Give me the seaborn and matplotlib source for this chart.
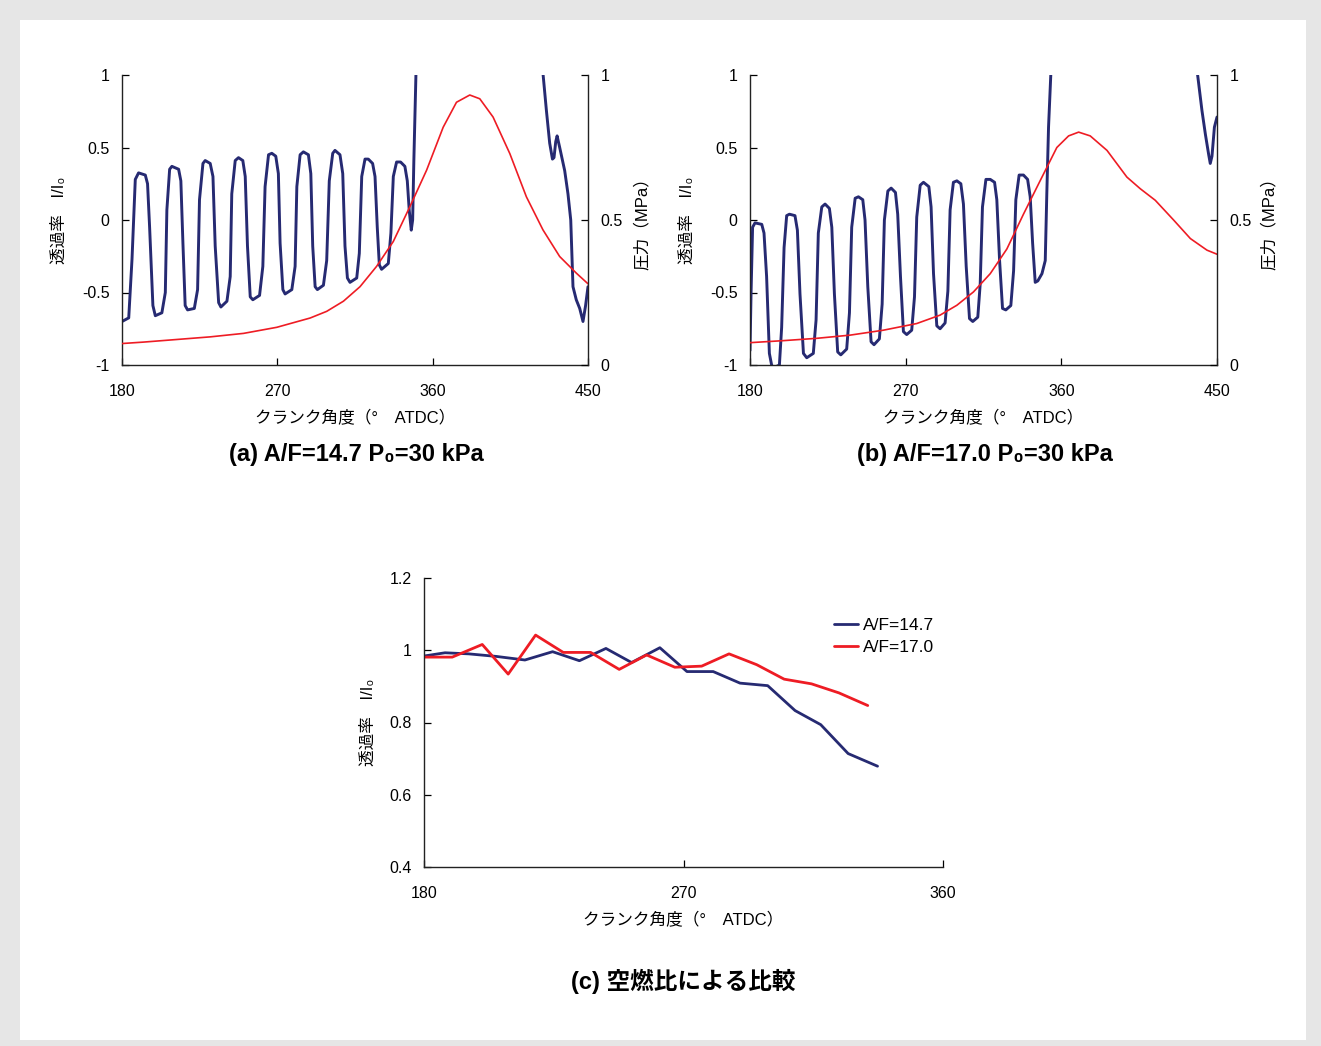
import numpy as np
import pandas as pd
import matplotlib
matplotlib.use("Agg")
import matplotlib.pyplot as plt
from matplotlib.patches import Rectangle
import seaborn as sns

sns.set_style("ticks")
plt.rcParams['font.family'] = ['Liberation Sans', 'Noto Sans CJK JP', 'DejaVu Sans']
plt.rcParams['text.color'] = 'black'
plt.rcParams['axes.labelcolor'] = 'black'

BLUE = '#262a72'
RED = '#ee1c24'

# ---- (a) A/F=14.7 : transmissivity (left axis), pressure (right axis)
a_blue1_ang = [180.0, 183.9, 185.8, 187.7, 189.6, 193.5, 194.8, 196.0, 197.9, 199.3, 203.1,
               205.1, 206.0, 207.6, 208.9, 212.8, 214.1, 215.3, 216.6, 218.0, 221.9,
               223.8, 224.9, 226.9, 228.2, 231.1, 232.7, 234.0, 236.0, 237.3, 240.8,
               242.7, 243.6, 245.6, 247.5, 250.0, 251.4, 252.7, 254.3, 255.8, 259.7,
               261.6, 262.9, 264.9, 266.8, 269.1, 270.6, 271.6, 273.2, 274.5, 278.4,
               280.3, 281.3, 283.2, 285.1, 288.0, 289.4, 290.5, 291.9, 293.2, 296.7,
               298.6, 300.1, 302.1, 303.4, 306.3, 307.9, 309.2, 310.6, 312.1, 316.0,
               317.5, 318.9, 320.8, 322.7, 325.2, 326.6, 327.9, 329.1, 330.4, 334.3,
               335.8, 337.2, 339.1, 341.4, 343.9, 345.3, 346.4, 347.6, 348.4, 349.1,
               350.3, 350.6]
a_blue1_val = [-0.70, -0.675, -0.27, 0.28, 0.325, 0.31, 0.25, -0.05, -0.59, -0.66, -0.64,
               -0.50, 0.07, 0.35, 0.37, 0.35, 0.27, -0.16, -0.59, -0.62, -0.61,
               -0.48, 0.14, 0.39, 0.41, 0.39, 0.30, -0.18, -0.57, -0.60, -0.56,
               -0.39, 0.18, 0.41, 0.43, 0.41, 0.30, -0.18, -0.53, -0.55, -0.52,
               -0.32, 0.23, 0.45, 0.46, 0.44, 0.32, -0.16, -0.48, -0.51, -0.48,
               -0.32, 0.23, 0.45, 0.47, 0.45, 0.32, -0.18, -0.46, -0.48, -0.45,
               -0.28, 0.27, 0.46, 0.48, 0.45, 0.32, -0.18, -0.40, -0.43, -0.40,
               -0.23, 0.30, 0.42, 0.42, 0.39, 0.30, -0.05, -0.31, -0.34, -0.30,
               -0.09, 0.30, 0.40, 0.40, 0.37, 0.27, 0.07, -0.07, 0.00, 0.41,
               1.0, 1.3]
a_blue2_ang = [423.6, 424.0, 425.9, 427.8, 429.4, 430.3, 431.3, 432.1, 433.6, 436.5, 438.4,
               440.0, 441.3, 443.2, 445.2, 447.1, 448.6, 450.0]
a_blue2_val = [1.3, 1.0, 0.755, 0.53, 0.42, 0.43, 0.54, 0.58, 0.50, 0.34, 0.18,
               0.0, -0.46, -0.55, -0.61, -0.70, -0.59, -0.46]
a_red_ang = [180, 192.5, 211.8, 231.1, 250.4, 269.7, 289.0, 298.6, 308.3, 317.9, 327.5,
             337.2, 346.8, 356.5, 366.1, 373.8, 381.5, 387.3, 395.0, 404.7, 414.3,
             423.9, 433.6, 443.2, 450]
a_red_mpa = [0.074, 0.079, 0.088, 0.097, 0.109, 0.130, 0.162, 0.185, 0.22, 0.27, 0.34,
             0.426, 0.546, 0.672, 0.82, 0.906, 0.931, 0.918, 0.855, 0.729, 0.58,
             0.466, 0.374, 0.317, 0.28]

# ---- (b) A/F=17.0
b_blue1_ang = [180.0, 180.6, 181.5, 182.9, 186.8, 188.1, 189.6, 191.2, 192.5, 193.5, 197.0,
               198.3, 199.7, 201.2, 202.8, 206.0, 207.4, 208.9, 210.9, 212.8, 216.6,
               218.2, 219.5, 221.5, 223.4, 225.9, 227.3, 228.8, 230.7, 232.5, 235.9,
               237.5, 238.8, 240.8, 242.7, 245.2, 246.5, 248.1, 250.0, 251.7, 254.8,
               256.4, 257.7, 259.7, 261.6, 264.1, 265.4, 267.0, 268.7, 270.6, 273.5,
               275.1, 276.4, 278.4, 280.3, 283.4, 284.7, 286.1, 288.0, 289.9, 292.8,
               294.4, 295.7, 297.6, 299.6, 301.9, 303.4, 305.0, 306.9, 308.8, 311.7,
               313.1, 314.4, 316.4, 318.9, 321.4, 322.7, 324.3, 326.0, 327.9, 330.8,
               332.4, 333.7, 335.6, 338.1, 340.5, 342.0, 343.4, 344.9, 346.4, 348.8,
               350.7, 351.6, 352.6, 353.9, 354.5]
b_blue1_val = [-0.90, -0.51, -0.05, -0.02, -0.03, -0.09, -0.39, -0.92, -1.0, -1.02, -1.0,
               -0.74, -0.19, 0.03, 0.04, 0.03, -0.07, -0.51, -0.92, -0.95, -0.92,
               -0.69, -0.09, 0.09, 0.11, 0.08, -0.05, -0.51, -0.91, -0.93, -0.89,
               -0.64, -0.05, 0.15, 0.16, 0.14, 0.0, -0.46, -0.84, -0.86, -0.82,
               -0.58, 0.0, 0.20, 0.22, 0.19, 0.04, -0.39, -0.77, -0.79, -0.76,
               -0.53, 0.02, 0.24, 0.26, 0.23, 0.09, -0.37, -0.73, -0.75, -0.71,
               -0.49, 0.07, 0.26, 0.27, 0.25, 0.11, -0.32, -0.68, -0.70, -0.67,
               -0.44, 0.09, 0.28, 0.28, 0.26, 0.14, -0.28, -0.61, -0.62, -0.59,
               -0.35, 0.14, 0.31, 0.31, 0.28, 0.16, -0.16, -0.43, -0.42, -0.37,
               -0.28, 0.18, 0.64, 1.0, 1.1]
b_blue2_ang = [438.5, 438.8, 441.3, 443.3, 445.2, 446.1, 447.1, 448.5, 450.0]
b_blue2_val = [1.1, 1.0, 0.755, 0.59, 0.45, 0.39, 0.44, 0.64, 0.71]
b_red_ang = [180, 199.3, 218.6, 237.9, 257.1, 276.4, 289.9, 299.6, 309.2, 318.9, 328.5,
             338.1, 347.8, 357.4, 364.2, 370.0, 376.7, 386.4, 397.9, 405.6, 414.3,
             424.9, 434.6, 444.2, 450]
b_red_mpa = [0.077, 0.084, 0.092, 0.103, 0.12, 0.143, 0.172, 0.206, 0.252, 0.315, 0.40,
             0.52, 0.636, 0.75, 0.79, 0.803, 0.79, 0.74, 0.648, 0.608, 0.568,
             0.50, 0.436, 0.396, 0.382]

# ---- (c) comparison
c_147_ang = [180, 187.3, 195.5, 205.0, 215.0, 224.6, 233.9, 243.1, 252.0, 261.8, 271.2,
             280.3, 289.6, 299.2, 308.7, 317.6, 327.1, 337.3]
c_147_val = [0.984, 0.993, 0.99, 0.983, 0.973, 0.996, 0.971, 1.005, 0.966, 1.007, 0.941,
             0.941, 0.909, 0.902, 0.833, 0.794, 0.714, 0.679]
c_170_ang = [180, 189.8, 200.2, 209.2, 218.7, 228.3, 237.8, 247.7, 257.2, 267.0, 276.3,
             285.8, 295.4, 304.9, 314.4, 323.9, 333.9]
c_170_val = [0.981, 0.981, 1.016, 0.934, 1.042, 0.994, 0.994, 0.947, 0.987, 0.953, 0.956,
             0.99, 0.96, 0.92, 0.907, 0.882, 0.847]

xlabel = 'クランク角度（°　ATDC）'
ylabel = '透過率　I/I₀'
ylabel_r = '圧力（MPa）'

W, H = 1321, 1046
fig = plt.figure(figsize=(W / 100, H / 100), dpi=100)
fig.patch.set_facecolor('#e6e6e6')
fig.patches.append(Rectangle((20 / W, 1 - 1040 / H), 1286 / W, 1020 / H,
                             transform=fig.transFigure, facecolor='white',
                             edgecolor='none', zorder=-10))


def box(l, t, r, b):
    return [l / W, 1 - b / H, (r - l) / W, (b - t) / H]


def style_ax(ax):
    ax.patch.set_alpha(0)
    ax.tick_params(direction='in', length=5, width=0.9, colors='black',
                   labelsize=11.5)
    for s in ax.spines.values():
        s.set_linewidth(1.0)
        s.set_color('#222222')


def signal_panel(rect, blue_segs, red_ang, red_mpa, title, tx, ylx, yrx):
    ax = fig.add_axes(rect)
    ax2 = ax.twinx()
    for ang, val in blue_segs:
        sns.lineplot(x=ang, y=val, ax=ax, color=BLUE, lw=2.1,
                     estimator=None, sort=False)
    sns.lineplot(x=red_ang, y=red_mpa, ax=ax2, color=RED, lw=1.2,
                 estimator=None, sort=False)
    ax.set_xlim(180, 450)
    ax.set_ylim(-1, 1)
    ax2.set_ylim(0, 1)
    ax.set_xticks([180, 270, 360, 450])
    ax.set_yticks([-1, -0.5, 0, 0.5, 1])
    ax.set_yticklabels(['-1', '-0.5', '0', '0.5', '1'])
    ax2.set_yticks([0, 0.5, 1])
    ax2.set_yticklabels(['0', '0.5', '1'])
    for a in (ax, ax2):
        style_ax(a)
    ax.tick_params(axis='x', pad=14)
    ax.tick_params(axis='y', pad=9)
    ax2.tick_params(axis='y', pad=9)
    ax.spines['top'].set_visible(False)
    ax.spines['right'].set_visible(False)
    for s in ('top', 'left', 'bottom'):
        ax2.spines[s].set_visible(False)
    ax.set_xlabel(xlabel, fontsize=12)
    ax.xaxis.set_label_coords(0.5, -0.155)
    ax.set_ylabel(ylabel, fontsize=12)
    ax.yaxis.set_label_coords(ylx, 0.5)
    ax2.set_ylabel(ylabel_r, fontsize=12)
    ax2.yaxis.set_label_coords(yrx, 0.5)
    fig.text(tx / W, 1 - 455 / H, title, ha='center', va='center',
             fontsize=17, fontweight='bold')
    return ax


signal_panel(box(122, 75, 588, 365),
             [(a_blue1_ang, a_blue1_val), (a_blue2_ang, a_blue2_val)],
             a_red_ang, a_red_mpa, '(a) A/F=14.7 P₀=30 kPa', 356, -0.118, 1.099)
signal_panel(box(750, 75, 1217, 365),
             [(b_blue1_ang, b_blue1_val), (b_blue2_ang, b_blue2_val)],
             b_red_ang, b_red_mpa, '(b) A/F=17.0 P₀=30 kPa', 985, -0.118, 1.094)

# ---- panel (c)
df_c = pd.concat([
    pd.DataFrame({'angle': c_147_ang, 'value': c_147_val, 'series': 'A/F=14.7'}),
    pd.DataFrame({'angle': c_170_ang, 'value': c_170_val, 'series': 'A/F=17.0'}),
])
axc = fig.add_axes(box(424, 578, 943, 867))
sns.lineplot(data=df_c, x='angle', y='value', hue='series', ax=axc,
             palette={'A/F=14.7': BLUE, 'A/F=17.0': RED}, lw=2,
             estimator=None, sort=False)
axc.set_xlim(180, 360)
axc.set_ylim(0.4, 1.2)
axc.set_xticks([180, 270, 360])
axc.set_yticks([0.4, 0.6, 0.8, 1.0, 1.2])
axc.set_yticklabels(['0.4', '0.6', '0.8', '1', '1.2'])
style_ax(axc)
axc.tick_params(axis='x', pad=14)
axc.tick_params(axis='y', pad=9)
axc.spines['top'].set_visible(False)
axc.spines['right'].set_visible(False)
axc.set_xlabel(xlabel, fontsize=12)
axc.xaxis.set_label_coords(0.5, -0.156)
axc.set_ylabel(ylabel, fontsize=12)
axc.yaxis.set_label_coords(-0.092, 0.5)
leg = axc.legend(loc='upper left', bbox_to_anchor=(0.79, 0.862), frameon=False,
                 fontsize=12.5, handlelength=1.4, handletextpad=0.25,
                 labelspacing=0.4, borderpad=0, borderaxespad=0)
fig.text(683 / W, 1 - 981 / H, '(c) 空燃比による比較', ha='center', va='center',
         fontsize=17, fontweight='bold')

fig.savefig('out.png', dpi=100, facecolor=fig.get_facecolor())
